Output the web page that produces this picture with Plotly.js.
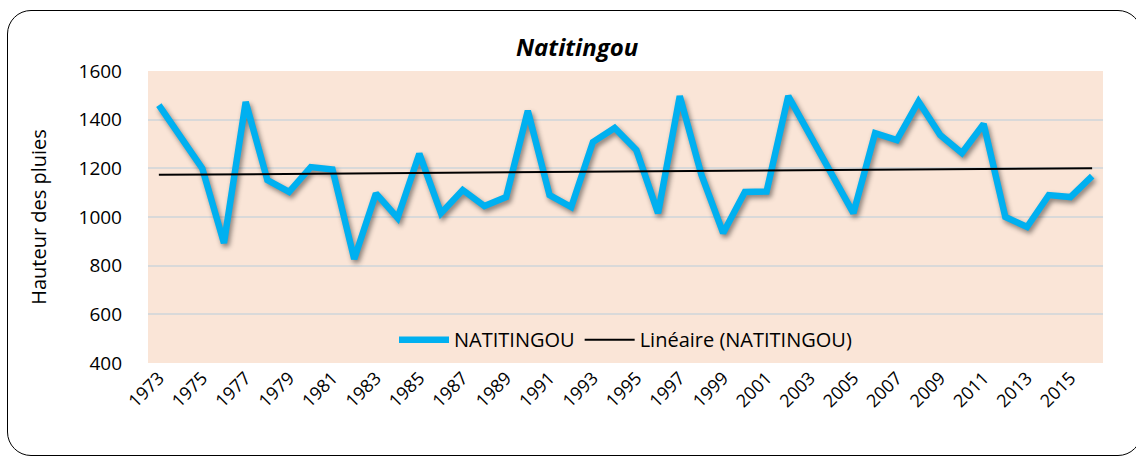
<!DOCTYPE html>
<html>
<head>
<meta charset="utf-8">
<script src="https://cdn.plot.ly/plotly-3.0.1.min.js"></script>
<style>
  html, body { margin: 0; padding: 0; background: #fff; overflow: hidden; }
  #wrap { position: relative; width: 1136px; height: 459px; overflow: hidden; }
  #chart { width: 1136px; height: 459px; }
  #frame { position: absolute; left: 7px; top: 10px; width: 1135px; height: 446px;
           border: 1.5px solid #000; border-radius: 24px; pointer-events: none; box-sizing: border-box; }
  .scatterlayer .trace:first-child path.js-line { filter: drop-shadow(2px 3px 2.5px rgba(0,0,0,0.45)); }
</style>
</head>
<body>
<div id="wrap">
  <div id="chart"></div>
  <div id="frame"></div>
</div>
<script>
const years = [1973,1974,1975,1976,1977,1978,1979,1980,1981,1982,1983,1984,1985,1986,1987,1988,1989,1990,1991,1992,1993,1994,
               1995,1996,1997,1998,1999,2000,2001,2002,2003,2004,2005,2006,2007,2008,2009,2010,2011,2012,2013,2014,2015,2016];
const rainfall = [1460,1330,1200,893,1473,1152,1103,1205,1195,827,1097,996,1260,1016,1111,1045,1082,1436,1090,1041,1308,1366,
                  1275,1016,1497,1173,934,1103,1105,1497,1335,1173,1016,1345,1316,1475,1337,1263,1382,1000,959,1090,1082,1168];
const seriesName = "NATITINGOU";
const trendName = "Linéaire (NATITINGOU)";
const yTicks = [400,600,800,1000,1200,1400,1600];

// Least-squares linear trend (Excel "Linéaire") computed from the series
const n = rainfall.length;
const idx = rainfall.map((_, i) => i + 1);
const mx = idx.reduce((a, b) => a + b, 0) / n;
const my = rainfall.reduce((a, b) => a + b, 0) / n;
let sxy = 0, sxx = 0;
for (let i = 0; i < n; i++) { sxy += (idx[i] - mx) * (rainfall[i] - my); sxx += (idx[i] - mx) ** 2; }
const slope = sxy / sxx, intercept = my - slope * mx;
const trend = idx.map(t => intercept + slope * t);

const xs = years.map(String);
const font = "'Open Sans', 'DejaVu Sans', sans-serif";

const data = [
  { x: xs, y: rainfall, type: "scatter", mode: "lines", name: seriesName,
    line: { color: "#00B0F0", width: 6.5, shape: "linear" } },
  { x: xs, y: trend, type: "scatter", mode: "lines", name: trendName,
    line: { color: "#000000", width: 2 } }
];

const layout = {
  width: 1136, height: 459,
  margin: { l: 148, r: 33, t: 71, b: 96 },
  paper_bgcolor: "#ffffff",
  plot_bgcolor: "#FAE5D7",
  font: { family: font, size: 18, color: "#000" },
  title: { text: "<b><i>Natitingou</i></b>", x: 0.508, xanchor: "center", y: 0.897, yanchor: "middle",
           font: { family: font, size: 24, color: "#000" } },
  xaxis: { type: "category", tickangle: -45, dtick: 2, showgrid: false, zeroline: false,
           range: [-0.5, years.length - 0.5],
           showline: false, ticks: "", tickfont: { size: 18, family: font }, automargin: false },
  yaxis: { range: [400, 1600], tickvals: yTicks, ticktext: yTicks.map(String), showgrid: true,
           gridcolor: "#D9D9D9", gridwidth: 2, zeroline: false, showline: false, ticks: "",
           ticklabelstandoff: 25,
           title: { text: "Hauteur des pluies", font: { size: 20, family: font }, standoff: 26 },
           tickfont: { size: 19, family: font }, automargin: false },
  legend: { orientation: "h", x: 0.5, xanchor: "center", y: 0.08, yanchor: "middle",
            bgcolor: "rgba(0,0,0,0)", font: { size: 20, family: font }, itemwidth: 50,
            traceorder: "normal" },
  showlegend: true
};

Plotly.newPlot("chart", data, layout, { displayModeBar: false, staticPlot: true });
</script>
</body>
</html>
